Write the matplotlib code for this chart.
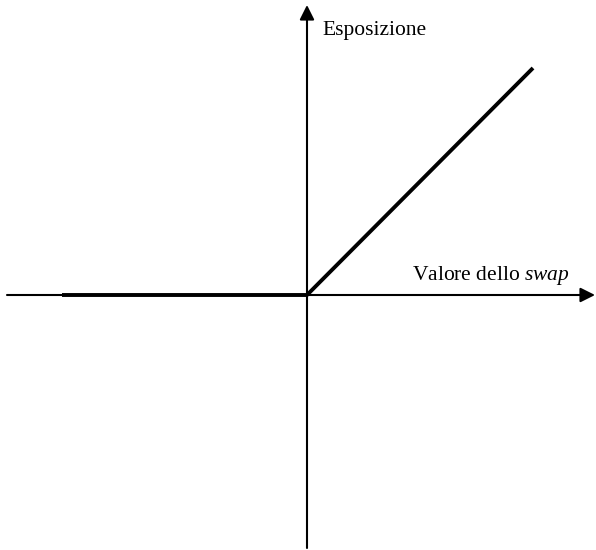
import matplotlib
matplotlib.use('Agg')
import matplotlib.pyplot as plt

plt.rcParams['font.family'] = ['Liberation Serif', 'DejaVu Serif']
plt.rcParams['mathtext.fontset'] = 'custom'
plt.rcParams['mathtext.it'] = 'Liberation Serif:italic'
plt.rcParams['mathtext.rm'] = 'Liberation Serif'

# valore dello swap e relativa esposizione (max(V, 0))
valore_swap = [-245, 0, 226]
esposizione = [0, 0, 227]

# estremi degli assi
asse_x = [-300, 288]
asse_y = [-253, 290]

fig = plt.figure(figsize=(5.96, 5.5), dpi=100)
ax = fig.add_axes([0, 0, 1, 1])
ax.set_xlim(-307, 289)
ax.set_ylim(-255, 295)
ax.axis('off')

freccia = dict(arrowstyle='-|>', lw=1.5, color='black', mutation_scale=22,
               shrinkA=0, shrinkB=0)
ax.annotate('', xy=(asse_x[1], 0), xytext=(asse_x[0], 0), arrowprops=freccia)
ax.annotate('', xy=(0, asse_y[1]), xytext=(0, asse_y[0]), arrowprops=freccia)

ax.plot(valore_swap, esposizione, color='black', lw=2.8, solid_capstyle='butt')

ax.text(15, 260, 'Esposizione', fontsize=15.5, va='baseline', ha='left')
ax.text(105, 15, 'Valore dello $\\mathit{swap}$', fontsize=15.5, va='baseline', ha='left')

fig.savefig('out.png', dpi=100)
